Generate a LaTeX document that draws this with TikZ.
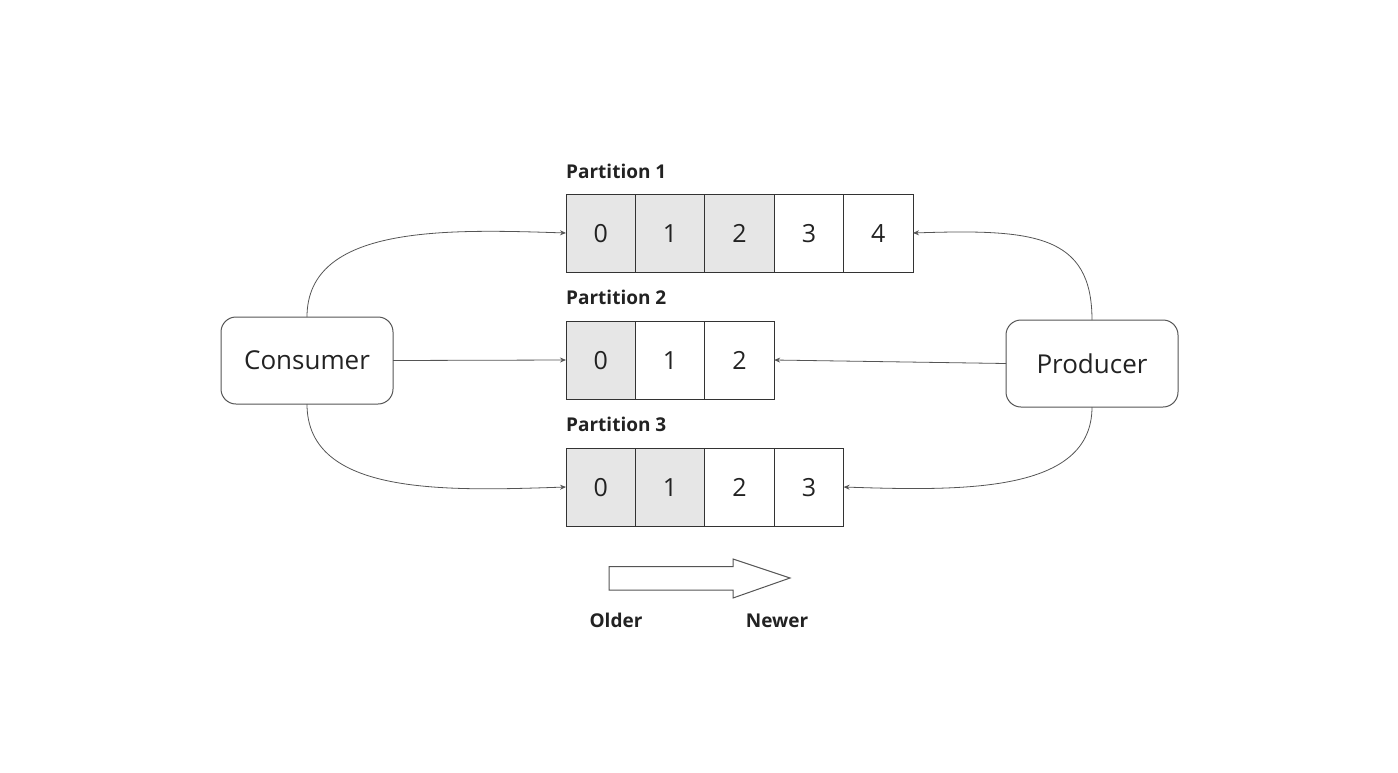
\documentclass[tikz,border=0pt]{standalone}
\usepackage{fontspec}
\setmainfont{Open Sans}
\usetikzlibrary{arrows.meta}
\definecolor{shade}{HTML}{E6E6E6}
\definecolor{linec}{HTML}{333333}
\definecolor{connc}{HTML}{555555}
\definecolor{textc}{HTML}{222222}
\begin{document}
\begin{tikzpicture}[x=1pt,y=-1pt,
  cell/.style={draw=linec, line width=1pt, minimum width=69.4pt, minimum height=78pt, inner sep=0pt, outer sep=0pt, text height=18pt, text depth=0pt, font=\fontsize{25}{30}\selectfont, text=textc},
  old/.style={cell, fill=shade},
  plabel/.style={font=\fontsize{19}{22}\selectfont\bfseries, text=textc, inner sep=0pt},
  client/.style={draw=connc, line width=1pt, rounded corners=15pt, minimum width=172pt, minimum height=87pt, inner sep=0pt, outer sep=0pt, font=\fontsize{26}{30}\selectfont, text=textc},
  conn/.style={draw=connc, line width=0.8pt, -{Stealth[length=6pt,width=5pt]}}]
\useasboundingbox (0,0) rectangle (1398,772);
% Partition 1
\node[plabel, anchor=base west] (l1) at (566,178) {Partition 1};
\node[old, anchor=north west] (p1c0) at (566,194) {0};
\node[old, anchor=west] (p1c1) at (p1c0.east) {1};
\node[old, anchor=west] (p1c2) at (p1c1.east) {2};
\node[cell, anchor=west] (p1c3) at (p1c2.east) {3};
\node[cell, anchor=west] (p1c4) at (p1c3.east) {4};
% Partition 2
\node[plabel, anchor=base west] (l2) at (566,304) {Partition 2};
\node[old, anchor=north west] (p2c0) at (566,321) {0};
\node[cell, anchor=west] (p2c1) at (p2c0.east) {1};
\node[cell, anchor=west] (p2c2) at (p2c1.east) {2};
% Partition 3
\node[plabel, anchor=base west] (l3) at (566,431) {Partition 3};
\node[old, anchor=north west] (p3c0) at (566,448) {0};
\node[old, anchor=west] (p3c1) at (p3c0.east) {1};
\node[cell, anchor=west] (p3c2) at (p3c1.east) {2};
\node[cell, anchor=west] (p3c3) at (p3c2.east) {3};
% Consumer / Producer
\node[client] (cons) at (307,360.5) {Consumer};
\node[client] (prod) at (1092,363.5) {Producer};
% connectors
\draw[conn] (cons.north) .. controls +(0,-92) and +(-120,-4) .. (p1c0.west);
\draw[conn] (cons.east) -- (p2c0.west);
\draw[conn] (cons.south) .. controls +(0,92) and +(-120,4) .. (p3c0.west);
\draw[conn] (prod.north) .. controls +(0,-86) and +(120,-4) .. (p1c4.east);
\draw[conn] (prod.west) -- (p2c2.east);
\draw[conn] (prod.south) .. controls +(0,86) and +(120,4) .. (p3c3.east);
% direction arrow
\draw[draw=connc, line width=1pt, fill=white] (609,566.5) -- (733,566.5) -- (733,559) -- (790,578) -- (733,598) -- (733,590) -- (609,590) -- cycle;
\node[plabel, anchor=base] (older) at (616,627) {Older};
\node[plabel, anchor=base] (newer) at (777,627) {Newer};
\end{tikzpicture}
\end{document}
